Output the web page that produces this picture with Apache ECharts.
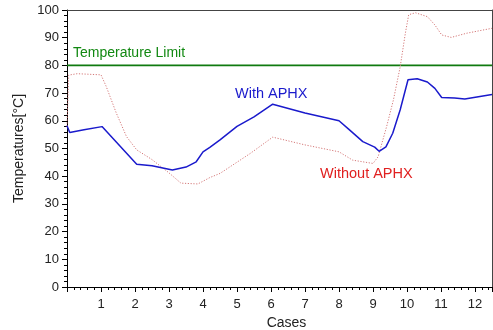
<!DOCTYPE html>
<html>
  <head>
    <meta http-equiv="Content-Type" content="text/html; charset=utf-8">
    <title>Temperatures with / without APHX</title>
    <style>
      html, body { margin: 0; padding: 0; background: #fff; }
      #chart { width: 493px; height: 330px; }
    </style>
    <script src="https://cdn.jsdelivr.net/npm/echarts@6/dist/echarts.min.js"></script>
  </head>
  <body>
    <div id="chart"></div>
    <script type="text/javascript">
      // values
      var withCases = [0, 0.08, 0.5, 1.03, 2.05, 2.5, 3.1, 3.5, 3.8, 4.0, 4.2, 4.5, 5.0, 5.5, 6.05,
        7.0, 8.0, 8.3, 8.7, 9.05, 9.18, 9.38, 9.58, 9.8, 10.03, 10.3, 10.6, 10.82, 11.02, 11.4, 11.7, 12.5];
      var withTemp = [58.2, 55.8, 56.8, 57.9, 44.3, 43.8, 42.2, 43.3, 45.2, 48.8, 50.4, 53.1, 58.0, 61.4, 66.0,
        62.8, 60.0, 56.8, 52.5, 50.5, 49.0, 50.6, 55.5, 64.0, 74.8, 75.2, 74.0, 71.7, 68.4, 68.2, 67.9, 69.5];

      var withoutCases = [0, 0.05, 0.3, 1.0, 1.15, 1.45, 1.75, 2.05, 2.5, 3.0, 3.35, 3.85, 4.2, 4.5, 5.4, 6.05,
        7.0, 8.0, 8.4, 9.0, 9.15, 9.4, 9.6, 9.8, 9.95, 10.05, 10.25, 10.6, 10.82, 11.02, 11.3, 11.75, 12.5];
      var withoutTemp = [58, 76.5, 77, 76.6, 72.5, 62.8, 54.3, 49.5, 46, 41.2, 37.5, 37.2, 39.5, 41, 48.3, 54.1,
        51.3, 48.8, 45.8, 44.6, 47, 57.9, 67.5, 79.5, 91.5, 98.3, 99.0, 97.6, 94.6, 91.0, 90.1, 91.6, 93.4];

      var limitCases = [0, 12.5];
      var limitTemp = [80, 80];

      function pairs(xs, ys) {
        return xs.map(function (x, i) { return [x, ys[i]]; });
      }

      var font = 'Liberation Sans, Arial, sans-serif';
      var myChart = echarts.init(document.getElementById('chart'));

      myChart.setOption({
        animation: false,
        textStyle: { fontFamily: font },
        grid: { left: 67, right: 1, top: 10, bottom: 43, containLabel: false, outerBoundsMode: 'none' },
        xAxis: [{
          type: 'value',
          min: 0, max: 12.5, interval: 1,
          name: 'Cases', nameLocation: 'middle', nameGap: 28,
          nameTextStyle: { color: '#222', fontSize: 14, fontFamily: font, padding: [0, 0, 0, 14] },
          axisLine: { lineStyle: { color: '#000', width: 1 } },
          axisTick: { length: 5, lineStyle: { color: '#000' } },
          minorTick: { show: true, splitNumber: 5, length: 3, lineStyle: { color: '#000' } },
          splitLine: { show: false },
          axisLabel: {
            color: '#222', fontSize: 13, margin: 11,
            formatter: function (v) { return (v === 0 || v % 1 !== 0) ? '' : String(v); }
          }
        }, {
          type: 'value', position: 'top', min: 0, max: 12.5,
          axisLine: { onZero: false, lineStyle: { color: '#444' } },
          axisTick: { show: false }, axisLabel: { show: false }, splitLine: { show: false }
        }],
        yAxis: [{
          type: 'value',
          min: 0, max: 100, interval: 10,
          name: 'Temperatures[°C]', nameLocation: 'middle', nameGap: 37,
          nameTextStyle: { color: '#222', fontSize: 14, fontFamily: font },
          axisLine: { show: true, lineStyle: { color: '#000', width: 1 } },
          axisTick: { show: true, length: 5, lineStyle: { color: '#000' } },
          minorTick: { show: true, splitNumber: 5, length: 3, lineStyle: { color: '#000' } },
          splitLine: { show: false },
          axisLabel: { color: '#222', fontSize: 13, margin: 8 }
        }, {
          type: 'value', position: 'right', min: 0, max: 100,
          axisLine: { show: true, onZero: false, lineStyle: { color: '#444' } },
          axisTick: { show: false }, axisLabel: { show: false }, splitLine: { show: false }
        }],
        graphic: [
          { type: 'text', left: 73, top: 46,
            style: { text: 'Temperature Limit', fill: '#118811', font: '14px ' + font } },
          { type: 'text', left: 235, top: 86,
            style: { text: 'With APHX', fill: '#1a1acc', font: '14.5px ' + font } },
          { type: 'text', left: 320, top: 166,
            style: { text: 'Without APHX', fill: '#e02020', font: '14.5px ' + font } }
        ],
        series: [{
          name: 'Temperature Limit', type: 'line', showSymbol: false,
          data: pairs(limitCases, limitTemp),
          lineStyle: { color: '#0f7a0f', width: 1.6 }
        }, {
          name: 'Without APHX', type: 'line', showSymbol: false,
          data: pairs(withoutCases, withoutTemp),
          lineStyle: { color: '#d47878', width: 1, type: [1.2, 1.6] }
        }, {
          name: 'With APHX', type: 'line', showSymbol: false,
          data: pairs(withCases, withTemp),
          lineStyle: { color: '#1a1acc', width: 1.5 }
        }]
      });
    </script>
  </body>
</html>
